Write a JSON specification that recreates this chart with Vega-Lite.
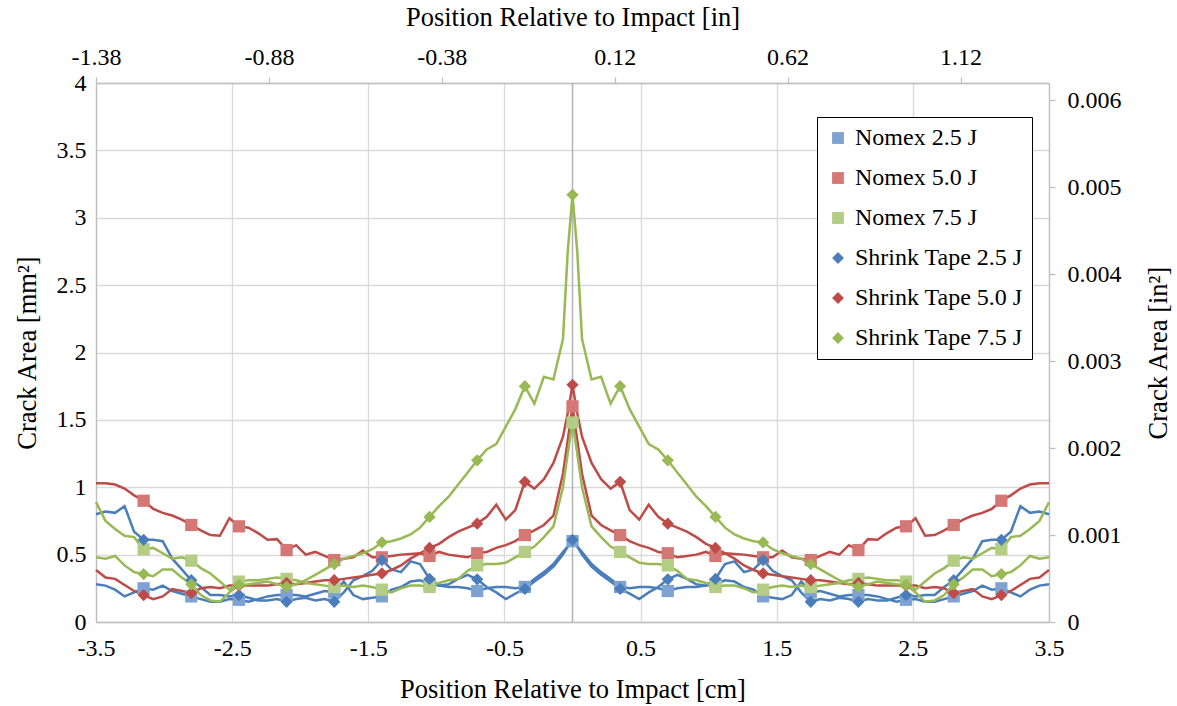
{
  "$schema": "https://vega.github.io/schema/vega-lite/v6.json",
  "width": 953,
  "height": 539,
  "autosize": {"type": "none"},
  "padding": {"left": 96, "top": 83, "right": 128, "bottom": 84},
  "config": {
    "font": "Liberation Serif, Times New Roman, serif",
    "view": {"stroke": null},
    "legend": {"labelFont": "Liberation Serif, Times New Roman, serif"},
    "axis": {"labelFont": "Liberation Serif, Times New Roman, serif", "titleFont": "Liberation Serif, Times New Roman, serif"}
  },
  "datasets": {
    "crack": [
      {"x":-3.5,"N25":0.28,"N50":1.03,"N75":0.89,"S25":0.8,"S50":0.386,"S75":0.48},
      {"x":-3.43,"N25":0.27,"N50":1.03,"N75":0.75,"S25":0.82,"S50":0.33,"S75":0.47},
      {"x":-3.36,"N25":0.24,"N50":1.02,"N75":0.69,"S25":0.81,"S50":0.32,"S75":0.49},
      {"x":-3.29,"N25":0.19,"N50":0.99,"N75":0.64,"S25":0.86,"S50":0.275,"S75":0.42},
      {"x":-3.22,"N25":0.22,"N50":0.94,"N75":0.63,"S25":0.67,"S50":0.23,"S75":0.37},
      {"x":-3.15,"N25":0.25,"N50":0.9,"N75":0.54,"S25":0.61,"S50":0.2,"S75":0.356},
      {"x":-3.08,"N25":0.24,"N50":0.84,"N75":0.55,"S25":0.61,"S50":0.17,"S75":0.34},
      {"x":-3.01,"N25":0.27,"N50":0.81,"N75":0.51,"S25":0.6,"S50":0.19,"S75":0.39},
      {"x":-2.94,"N25":0.23,"N50":0.79,"N75":0.47,"S25":0.47,"S50":0.245,"S75":0.39},
      {"x":-2.87,"N25":0.21,"N50":0.76,"N75":0.48,"S25":0.39,"S50":0.23,"S75":0.33},
      {"x":-2.8,"N25":0.19,"N50":0.72,"N75":0.455,"S25":0.31,"S50":0.215,"S75":0.28},
      {"x":-2.73,"N25":0.17,"N50":0.68,"N75":0.4,"S25":0.26,"S50":0.25,"S75":0.2},
      {"x":-2.66,"N25":0.15,"N50":0.645,"N75":0.36,"S25":0.2,"S50":0.26,"S75":0.16},
      {"x":-2.59,"N25":0.15,"N50":0.64,"N75":0.3,"S25":0.2,"S50":0.25,"S75":0.15},
      {"x":-2.52,"N25":0.17,"N50":0.77,"N75":0.24,"S25":0.19,"S50":0.27,"S75":0.22},
      {"x":-2.45,"N25":0.165,"N50":0.71,"N75":0.3,"S25":0.2,"S50":0.27,"S75":0.275},
      {"x":-2.38,"N25":0.15,"N50":0.7,"N75":0.31,"S25":0.18,"S50":0.27,"S75":0.28},
      {"x":-2.31,"N25":0.17,"N50":0.66,"N75":0.31,"S25":0.16,"S50":0.27,"S75":0.29},
      {"x":-2.24,"N25":0.19,"N50":0.61,"N75":0.32,"S25":0.16,"S50":0.27,"S75":0.3},
      {"x":-2.17,"N25":0.2,"N50":0.615,"N75":0.33,"S25":0.17,"S50":0.28,"S75":0.28},
      {"x":-2.1,"N25":0.2,"N50":0.534,"N75":0.32,"S25":0.15,"S50":0.29,"S75":0.262},
      {"x":-2.03,"N25":0.2,"N50":0.57,"N75":0.31,"S25":0.17,"S50":0.28,"S75":0.28},
      {"x":-1.96,"N25":0.19,"N50":0.5,"N75":0.29,"S25":0.18,"S50":0.29,"S75":0.31},
      {"x":-1.89,"N25":0.21,"N50":0.52,"N75":0.28,"S25":0.16,"S50":0.3,"S75":0.35},
      {"x":-1.82,"N25":0.23,"N50":0.49,"N75":0.27,"S25":0.17,"S50":0.31,"S75":0.39},
      {"x":-1.75,"N25":0.22,"N50":0.46,"N75":0.26,"S25":0.15,"S50":0.31,"S75":0.43},
      {"x":-1.68,"N25":0.3,"N50":0.47,"N75":0.27,"S25":0.22,"S50":0.32,"S75":0.47},
      {"x":-1.61,"N25":0.2,"N50":0.48,"N75":0.26,"S25":0.31,"S50":0.33,"S75":0.49},
      {"x":-1.54,"N25":0.17,"N50":0.53,"N75":0.27,"S25":0.34,"S50":0.34,"S75":0.51},
      {"x":-1.47,"N25":0.18,"N50":0.48,"N75":0.26,"S25":0.38,"S50":0.35,"S75":0.54},
      {"x":-1.4,"N25":0.19,"N50":0.48,"N75":0.24,"S25":0.46,"S50":0.36,"S75":0.59},
      {"x":-1.33,"N25":0.24,"N50":0.49,"N75":0.22,"S25":0.39,"S50":0.386,"S75":0.6},
      {"x":-1.26,"N25":0.26,"N50":0.5,"N75":0.25,"S25":0.37,"S50":0.42,"S75":0.62},
      {"x":-1.19,"N25":0.3,"N50":0.505,"N75":0.27,"S25":0.45,"S50":0.47,"S75":0.65},
      {"x":-1.12,"N25":0.31,"N50":0.51,"N75":0.27,"S25":0.43,"S50":0.51,"S75":0.7},
      {"x":-1.05,"N25":0.28,"N50":0.49,"N75":0.26,"S25":0.32,"S50":0.55,"S75":0.78},
      {"x":-0.98,"N25":0.27,"N50":0.52,"N75":0.29,"S25":0.27,"S50":0.58,"S75":0.86},
      {"x":-0.91,"N25":0.26,"N50":0.5,"N75":0.31,"S25":0.28,"S50":0.63,"S75":0.93},
      {"x":-0.84,"N25":0.26,"N50":0.49,"N75":0.32,"S25":0.32,"S50":0.67,"S75":1.02},
      {"x":-0.77,"N25":0.25,"N50":0.48,"N75":0.38,"S25":0.35,"S50":0.7,"S75":1.11},
      {"x":-0.7,"N25":0.23,"N50":0.51,"N75":0.42,"S25":0.317,"S50":0.73,"S75":1.2},
      {"x":-0.63,"N25":0.25,"N50":0.52,"N75":0.43,"S25":0.26,"S50":0.78,"S75":1.28},
      {"x":-0.56,"N25":0.26,"N50":0.55,"N75":0.43,"S25":0.22,"S50":0.87,"S75":1.32},
      {"x":-0.49,"N25":0.26,"N50":0.57,"N75":0.44,"S25":0.17,"S50":0.76,"S75":1.45},
      {"x":-0.42,"N25":0.25,"N50":0.6,"N75":0.48,"S25":0.21,"S50":0.83,"S75":1.58},
      {"x":-0.35,"N25":0.26,"N50":0.645,"N75":0.52,"S25":0.245,"S50":1.04,"S75":1.75},
      {"x":-0.28,"N25":0.32,"N50":0.68,"N75":0.56,"S25":0.3,"S50":0.99,"S75":1.62},
      {"x":-0.21,"N25":0.37,"N50":0.72,"N75":0.63,"S25":0.35,"S50":1.06,"S75":1.82},
      {"x":-0.14,"N25":0.43,"N50":0.79,"N75":0.71,"S25":0.41,"S50":1.18,"S75":1.8},
      {"x":-0.07,"N25":0.52,"N50":1.1,"N75":1.0,"S25":0.5,"S50":1.375,"S75":2.1},
      {"x":-0.035,"N25":0.56,"N50":1.35,"N75":1.25,"S25":0.56,"S50":1.55,"S75":2.75},
      {"x":0,"N25":0.6,"N50":1.6,"N75":1.48,"S25":0.61,"S50":1.76,"S75":3.17},
      {"x":0.035,"N25":0.56,"N50":1.35,"N75":1.25,"S25":0.56,"S50":1.55,"S75":2.75},
      {"x":0.07,"N25":0.52,"N50":1.1,"N75":1.0,"S25":0.5,"S50":1.375,"S75":2.1},
      {"x":0.14,"N25":0.43,"N50":0.79,"N75":0.71,"S25":0.41,"S50":1.18,"S75":1.8},
      {"x":0.21,"N25":0.37,"N50":0.72,"N75":0.63,"S25":0.35,"S50":1.06,"S75":1.82},
      {"x":0.28,"N25":0.32,"N50":0.68,"N75":0.56,"S25":0.3,"S50":0.99,"S75":1.62},
      {"x":0.35,"N25":0.26,"N50":0.645,"N75":0.52,"S25":0.245,"S50":1.04,"S75":1.75},
      {"x":0.42,"N25":0.25,"N50":0.6,"N75":0.48,"S25":0.21,"S50":0.83,"S75":1.58},
      {"x":0.49,"N25":0.26,"N50":0.57,"N75":0.44,"S25":0.17,"S50":0.76,"S75":1.45},
      {"x":0.56,"N25":0.26,"N50":0.55,"N75":0.43,"S25":0.22,"S50":0.87,"S75":1.32},
      {"x":0.63,"N25":0.25,"N50":0.52,"N75":0.43,"S25":0.26,"S50":0.78,"S75":1.28},
      {"x":0.7,"N25":0.23,"N50":0.51,"N75":0.42,"S25":0.317,"S50":0.73,"S75":1.2},
      {"x":0.77,"N25":0.25,"N50":0.48,"N75":0.38,"S25":0.35,"S50":0.7,"S75":1.11},
      {"x":0.84,"N25":0.26,"N50":0.49,"N75":0.32,"S25":0.32,"S50":0.67,"S75":1.02},
      {"x":0.91,"N25":0.26,"N50":0.5,"N75":0.31,"S25":0.28,"S50":0.63,"S75":0.93},
      {"x":0.98,"N25":0.27,"N50":0.52,"N75":0.29,"S25":0.27,"S50":0.58,"S75":0.86},
      {"x":1.05,"N25":0.28,"N50":0.49,"N75":0.26,"S25":0.32,"S50":0.55,"S75":0.78},
      {"x":1.12,"N25":0.31,"N50":0.51,"N75":0.27,"S25":0.43,"S50":0.51,"S75":0.7},
      {"x":1.19,"N25":0.3,"N50":0.505,"N75":0.27,"S25":0.45,"S50":0.47,"S75":0.65},
      {"x":1.26,"N25":0.26,"N50":0.5,"N75":0.25,"S25":0.37,"S50":0.42,"S75":0.62},
      {"x":1.33,"N25":0.24,"N50":0.49,"N75":0.22,"S25":0.39,"S50":0.386,"S75":0.6},
      {"x":1.4,"N25":0.19,"N50":0.48,"N75":0.24,"S25":0.46,"S50":0.36,"S75":0.59},
      {"x":1.47,"N25":0.18,"N50":0.48,"N75":0.26,"S25":0.38,"S50":0.35,"S75":0.54},
      {"x":1.54,"N25":0.17,"N50":0.53,"N75":0.27,"S25":0.34,"S50":0.34,"S75":0.51},
      {"x":1.61,"N25":0.2,"N50":0.48,"N75":0.26,"S25":0.31,"S50":0.33,"S75":0.49},
      {"x":1.68,"N25":0.3,"N50":0.47,"N75":0.27,"S25":0.22,"S50":0.32,"S75":0.47},
      {"x":1.75,"N25":0.22,"N50":0.46,"N75":0.26,"S25":0.15,"S50":0.31,"S75":0.43},
      {"x":1.82,"N25":0.23,"N50":0.49,"N75":0.27,"S25":0.17,"S50":0.31,"S75":0.39},
      {"x":1.89,"N25":0.21,"N50":0.52,"N75":0.28,"S25":0.16,"S50":0.3,"S75":0.35},
      {"x":1.96,"N25":0.19,"N50":0.5,"N75":0.29,"S25":0.18,"S50":0.29,"S75":0.31},
      {"x":2.03,"N25":0.2,"N50":0.57,"N75":0.31,"S25":0.17,"S50":0.28,"S75":0.28},
      {"x":2.1,"N25":0.2,"N50":0.534,"N75":0.32,"S25":0.15,"S50":0.29,"S75":0.262},
      {"x":2.17,"N25":0.2,"N50":0.615,"N75":0.33,"S25":0.17,"S50":0.28,"S75":0.28},
      {"x":2.24,"N25":0.19,"N50":0.61,"N75":0.32,"S25":0.16,"S50":0.27,"S75":0.3},
      {"x":2.31,"N25":0.17,"N50":0.66,"N75":0.31,"S25":0.16,"S50":0.27,"S75":0.29},
      {"x":2.38,"N25":0.15,"N50":0.7,"N75":0.31,"S25":0.18,"S50":0.27,"S75":0.28},
      {"x":2.45,"N25":0.165,"N50":0.71,"N75":0.3,"S25":0.2,"S50":0.27,"S75":0.275},
      {"x":2.52,"N25":0.17,"N50":0.77,"N75":0.24,"S25":0.19,"S50":0.27,"S75":0.22},
      {"x":2.59,"N25":0.15,"N50":0.64,"N75":0.3,"S25":0.2,"S50":0.25,"S75":0.15},
      {"x":2.66,"N25":0.15,"N50":0.645,"N75":0.36,"S25":0.2,"S50":0.26,"S75":0.16},
      {"x":2.73,"N25":0.17,"N50":0.68,"N75":0.4,"S25":0.26,"S50":0.25,"S75":0.2},
      {"x":2.8,"N25":0.19,"N50":0.72,"N75":0.455,"S25":0.31,"S50":0.215,"S75":0.28},
      {"x":2.87,"N25":0.21,"N50":0.76,"N75":0.48,"S25":0.39,"S50":0.23,"S75":0.33},
      {"x":2.94,"N25":0.23,"N50":0.79,"N75":0.47,"S25":0.47,"S50":0.245,"S75":0.39},
      {"x":3.01,"N25":0.27,"N50":0.81,"N75":0.51,"S25":0.6,"S50":0.19,"S75":0.39},
      {"x":3.08,"N25":0.24,"N50":0.84,"N75":0.55,"S25":0.61,"S50":0.17,"S75":0.34},
      {"x":3.15,"N25":0.25,"N50":0.9,"N75":0.54,"S25":0.61,"S50":0.2,"S75":0.356},
      {"x":3.22,"N25":0.22,"N50":0.94,"N75":0.63,"S25":0.67,"S50":0.23,"S75":0.37},
      {"x":3.29,"N25":0.19,"N50":0.99,"N75":0.64,"S25":0.86,"S50":0.275,"S75":0.42},
      {"x":3.36,"N25":0.24,"N50":1.02,"N75":0.69,"S25":0.81,"S50":0.32,"S75":0.49},
      {"x":3.43,"N25":0.27,"N50":1.03,"N75":0.75,"S25":0.82,"S50":0.33,"S75":0.47},
      {"x":3.5,"N25":0.28,"N50":1.03,"N75":0.89,"S25":0.8,"S50":0.386,"S75":0.48}
    ],
    "inch": [
      {"xin": -1.3779528, "yin": 0},
      {"xin": 1.3779528, "yin": 0.0062}
    ]
  },
  "layer": [
    {
      "layer": [
        {
          "data": {"values": [{"x": 0}]},
          "mark": {"type": "rule", "color": "#B4B4B4", "strokeWidth": 1.5},
          "encoding": {
            "x": {"field": "x", "type": "quantitative", "title": "Position Relative to Impact [cm]"}
          }
        },
        {
          "data": {"name": "crack"},
          "transform": [
            {"fold": ["N25", "N50", "N75", "S25", "S50", "S75"], "as": ["line", "area"]},
            {"filter": "datum.line == 'N25' || datum.line == 'S25'"}
          ],
          "mark": {"type": "line", "strokeWidth": 2.5, "color": "#4A7EBB"},
          "encoding": {
            "x": {
              "field": "x", "type": "quantitative",
              "scale": {"domain": [-3.5, 3.5], "nice": false, "zero": false},
              "title": "Position Relative to Impact [cm]",
              "axis": {
                "orient": "bottom",
                "values": [-3.5, -2.5, -1.5, -0.5, 0.5, 1.5, 2.5, 3.5],
                "labelExpr": "'' + datum.value",
                "grid": true, "gridColor": "#D9D9D9", "gridWidth": 1.3,
                "domainColor": "#BFBFBF", "domainWidth": 1.3,
                "ticks": false,
                "labelFontSize": 24, "labelColor": "black",
                "labelPadding": 14, "labelFlush": false,
                "titleFontSize": 26.5, "titleFontWeight": "normal",
                "titleColor": "black", "titlePadding": 16
              }
            },
            "y": {
              "field": "area", "type": "quantitative",
              "scale": {"domain": [0, 4], "nice": false},
              "title": "Crack Area [mm²]",
              "axis": {
                "orient": "left",
                "values": [0, 0.5, 1, 1.5, 2, 2.5, 3, 3.5, 4],
                "labelExpr": "'' + datum.value",
                "grid": true, "gridColor": "#D9D9D9", "gridWidth": 1.3,
                "domainColor": "#BFBFBF", "domainWidth": 1.3,
                "ticks": false,
                "labelFontSize": 24, "labelColor": "black",
                "labelPadding": 10,
                "titleFontSize": 26.5, "titleFontWeight": "normal",
                "titleColor": "black", "titlePadding": 15
              }
            },
            "detail": {"field": "line", "type": "nominal"}
          }
        },
        {
          "data": {"name": "crack"},
          "transform": [
            {"fold": ["N25", "N50", "N75", "S25", "S50", "S75"], "as": ["line", "area"]},
            {"filter": "datum.line == 'N50' || datum.line == 'S50'"}
          ],
          "mark": {"type": "line", "strokeWidth": 2.5, "color": "#BE4B48"},
          "encoding": {
            "x": {"field": "x", "type": "quantitative", "title": "Position Relative to Impact [cm]"},
            "y": {"field": "area", "type": "quantitative", "title": "Crack Area [mm²]"},
            "detail": {"field": "line", "type": "nominal"}
          }
        },
        {
          "data": {"name": "crack"},
          "transform": [
            {"fold": ["N25", "N50", "N75", "S25", "S50", "S75"], "as": ["line", "area"]},
            {"filter": "datum.line == 'N75' || datum.line == 'S75'"}
          ],
          "mark": {"type": "line", "strokeWidth": 2.5, "color": "#98B954"},
          "encoding": {
            "x": {"field": "x", "type": "quantitative", "title": "Position Relative to Impact [cm]"},
            "y": {"field": "area", "type": "quantitative", "title": "Crack Area [mm²]"},
            "detail": {"field": "line", "type": "nominal"}
          }
        },
        {
          "data": {"name": "crack"},
          "transform": [
            {"fold": ["N25", "N50", "N75", "S25", "S50", "S75"], "as": ["series", "area"]},
            {"filter": "abs(round(datum.x * 100)) % 35 == 0 && abs(datum.x) < 3.4"}
          ],
          "mark": {"type": "point", "filled": true, "size": 150, "opacity": 1},
          "encoding": {
            "x": {"field": "x", "type": "quantitative", "title": "Position Relative to Impact [cm]"},
            "y": {"field": "area", "type": "quantitative", "title": "Crack Area [mm²]"},
            "color": {
              "field": "series", "type": "nominal",
              "scale": {
                "domain": ["N25", "N50", "N75", "S25", "S50", "S75"],
                "range": ["#7EA2D2", "#D47876", "#B3CD85", "#4A7EBB", "#BE4B48", "#98B954"]
              },
              "legend": {
                "orient": "none", "legendX": 721, "legendY": 34, "title": null,
                "labelExpr": "datum.label == 'N25' ? 'Nomex 2.5 J' : datum.label == 'N50' ? 'Nomex 5.0 J' : datum.label == 'N75' ? 'Nomex 7.5 J' : datum.label == 'S25' ? 'Shrink Tape 2.5 J' : datum.label == 'S50' ? 'Shrink Tape 5.0 J' : 'Shrink Tape 7.5 J'",
                "labelFontSize": 24, "labelColor": "black", "labelLimit": 400,
                "symbolSize": 140,
                "strokeColor": "black", "fillColor": "white", "padding": 9,
                "rowPadding": 16, "labelOffset": 5
              }
            },
            "shape": {
              "field": "series", "type": "nominal",
              "scale": {
                "domain": ["N25", "N50", "N75", "S25", "S50", "S75"],
                "range": ["square", "square", "square", "diamond", "diamond", "diamond"]
              }
            }
          }
        }
      ]
    },
    {
      "data": {"name": "inch"},
      "mark": {"type": "point", "opacity": 0},
      "encoding": {
        "x": {
          "field": "xin", "type": "quantitative",
          "scale": {"domain": [-1.3779528, 1.3779528], "nice": false, "zero": false},
          "title": "Position Relative to Impact [in]",
          "axis": {
            "orient": "top",
            "values": [-1.3779, -0.8779, -0.3779, 0.1221, 0.6221, 1.1221],
            "labelExpr": "replace(format(datum.value, '.2f'), '\u2212', '-')",
            "grid": false, "ticks": true, "tickSize": 6, "tickColor": "#BFBFBF", "tickWidth": 1.3,
            "domainColor": "#BFBFBF", "domainWidth": 1.3,
            "labelFontSize": 24, "labelColor": "black",
            "labelPadding": 8, "labelFlush": false,
            "titleFontSize": 26.5, "titleFontWeight": "normal",
            "titleColor": "black", "titlePadding": 14
          }
        },
        "y": {
          "field": "yin", "type": "quantitative",
          "scale": {"domain": [0, 0.0062], "nice": false, "zero": true},
          "title": "Crack Area [in²]",
          "axis": {
            "orient": "right",
            "values": [0, 0.001, 0.002, 0.003, 0.004, 0.005, 0.006],
            "format": ".3~f",
            "grid": false, "ticks": true, "tickSize": 6, "tickColor": "#BFBFBF", "tickWidth": 1.3,
            "domainColor": "#BFBFBF", "domainWidth": 1.3,
            "labelFontSize": 24, "labelColor": "black",
            "labelPadding": 12,
            "titleFontSize": 26.5, "titleFontWeight": "normal",
            "titleColor": "black", "titlePadding": 24, "titleAngle": 270, "titleBaseline": "top"
          }
        }
      }
    }
  ],
  "resolve": {"scale": {"x": "independent", "y": "independent"}}
}
